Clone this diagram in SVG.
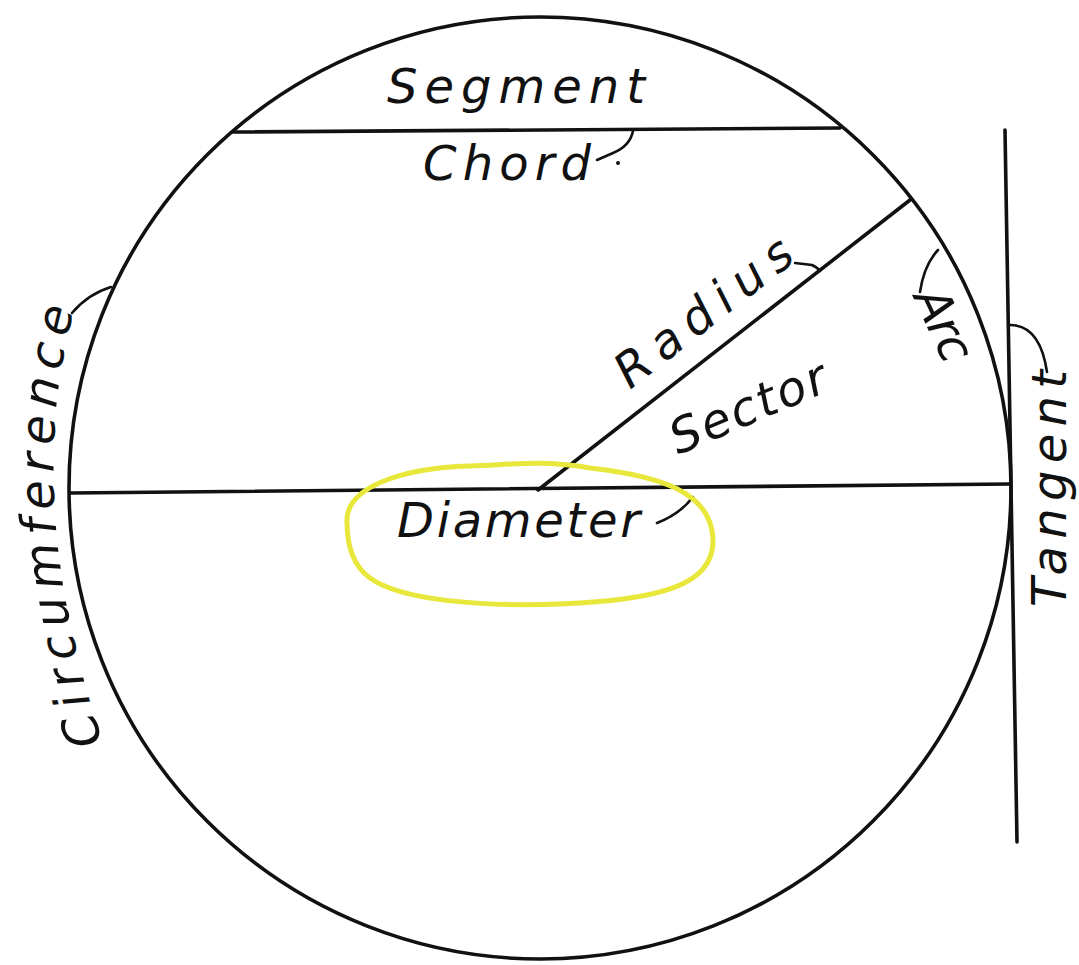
<svg xmlns="http://www.w3.org/2000/svg" width="1079" height="965" viewBox="0 0 1079 965">
<style>
.ln{fill:none;stroke:#111;stroke-width:3.6;stroke-linecap:round}
.ld{fill:none;stroke:#111;stroke-width:2.6;stroke-linecap:round}
.t{font-family:"DejaVu Sans","Liberation Sans",sans-serif;font-style:oblique;fill:#111;font-size:48px}
</style>
<defs>
<path id="circPath" d="M103,742 Q20,497 76,303"/>
</defs>
<rect width="1079" height="965" fill="#fff"/>
<g id="circle"><circle class="ln" cx="540" cy="488" r="471"/></g>
<g id="connectors">
<line class="ln" x1="70" y1="493" x2="1010" y2="484"/>
<line class="ln" x1="233" y1="132" x2="840" y2="128"/>
<line class="ln" x1="538" y1="490" x2="910" y2="200"/>
<line class="ln" x1="1005" y1="130" x2="1017" y2="842"/>
<path class="ld" d="M597,160 L613,153 Q630,146 633,131"/>
<circle cx="618" cy="163" r="2" fill="#111"/>
<path class="ld" d="M795,263 L812,265 Q818,268 820,271"/>
<path class="ld" d="M938,250 Q924,265 920,292"/>
<path class="ld" d="M1010,325 Q1040,325 1047,372"/>
<path class="ld" d="M72,313 Q88,294 111,287"/>
<path class="ld" d="M657,523 Q680,514 693,497"/>
</g>
<g id="highlight">
<path d="M347,522 C345,488 400,468 470,466 C520,464 545,460 590,468 C660,476 712,492 713,540 C714,585 660,600 560,604 C480,607 400,600 370,578 C352,565 347,545 347,522 Z" fill="none" stroke="#e8e83c" stroke-width="5"/>
</g>
<g id="segment"><text class="t" x="387" y="103" textLength="258" lengthAdjust="spacing">Segment</text></g>
<g id="chord"><text class="t" x="423" y="180" textLength="168" lengthAdjust="spacing" font-size="50">Chord</text></g>
<g id="radius"><text class="t" transform="translate(630,390) rotate(-37.9)" textLength="212" lengthAdjust="spacing" font-size="46">Radius</text></g>
<g id="sector"><text class="t" transform="translate(678,455) rotate(-23)" textLength="166" lengthAdjust="spacing" font-size="44">Sector</text></g>
<g id="arc"><text class="t" transform="translate(913,297) rotate(65)" textLength="76" lengthAdjust="spacing" font-size="40">Arc</text></g>
<g id="diameter"><text class="t" x="397" y="537" textLength="243" lengthAdjust="spacing" font-size="42">Diameter</text></g>
<g id="tangent"><text class="t" transform="translate(1066,607) rotate(-90)" textLength="237" lengthAdjust="spacing" font-size="46">Tangent</text></g>
<g id="circumference"><text class="t" font-size="46"><textPath href="#circPath" textLength="440" lengthAdjust="spacing">Circumference</textPath></text></g>
</svg>
